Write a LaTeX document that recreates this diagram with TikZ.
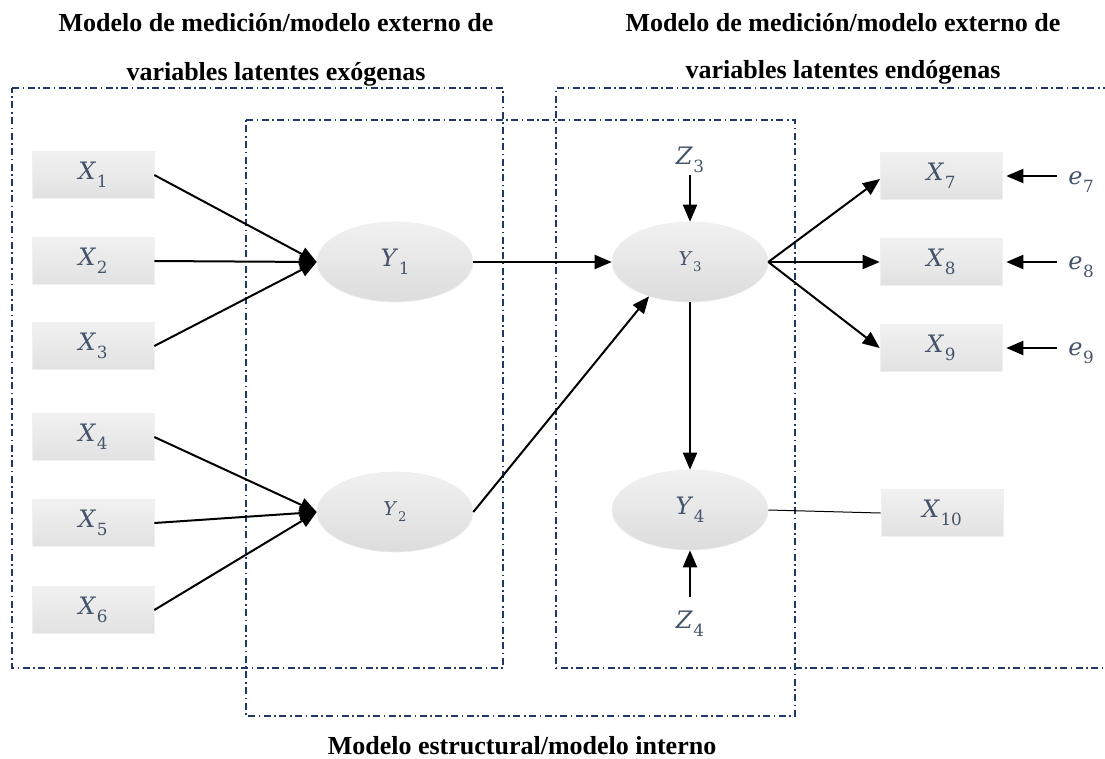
\documentclass[tikz,border=0pt]{standalone}
\usepackage{fontspec}
\setmainfont{Liberation Serif}
\newfontfamily\labelfont{DejaVu Serif}
\usetikzlibrary{arrows.meta,shapes.geometric}
\definecolor{frameblue}{HTML}{1F3864}
\definecolor{labelgray}{HTML}{44546A}
% variable name: italic letter with an upright, lowered index
\newcommand{\lvar}[2]{\textit{#1}\kern0.5pt\raisebox{-0.32em}{\scalebox{0.7}{#2}}}
\tikzset{
  region/.style={draw=frameblue,line width=1.6pt,dash pattern=on 7pt off 3.5pt on 1.6pt off 3.5pt},
  heading/.style={font=\fontsize{26}{30}\selectfont\bfseries,text=black,anchor=base,inner sep=0pt},
  indicator/.style={rectangle,minimum width=122pt,minimum height=47pt,inner sep=0pt,
    top color=gray!11,bottom color=gray!23,draw=gray!12,line width=0.6pt,
    text=labelgray,font=\labelfont\fontsize{24}{28}\selectfont},
  latent/.style={ellipse,minimum width=156pt,minimum height=80pt,inner sep=0pt,
    top color=gray!11,bottom color=gray!27,draw=gray!14,line width=0.6pt,
    text=labelgray,font=\labelfont\fontsize{24}{28}\selectfont},
  smalltext/.style={font=\labelfont\fontsize{19}{22}\selectfont},
  freelabel/.style={text=labelgray,font=\labelfont\fontsize{24}{28}\selectfont,inner sep=0pt},
  link/.style={-{Triangle[length=17pt,width=14pt]},line width=2pt,black},
}
\begin{document}
\begin{tikzpicture}[x=1pt,y=-1pt]
\useasboundingbox (0,0) rectangle (1105,758);

% regions (measurement models and structural model)
\draw[region] (12,88) -- (503,88) -- (503,668) -- (12,668) -- cycle;
\draw[region] (246,120) -- (795,120) -- (795,716) -- (246,716) -- cycle;
\draw[region] (1110,88) -- (556,88) -- (556,668) -- (1110,668);

% headings
\node[heading] (h1) at (276,31) {Modelo de medición/modelo externo de};
\node[heading] (h2) at (276,80) {variables latentes exógenas};
\node[heading] (h3) at (843,31) {Modelo de medición/modelo externo de};
\node[heading] (h4) at (843,78) {variables latentes endógenas};
\node[heading] (h5) at (522,754) {Modelo estructural/modelo interno};

% exogenous indicators
\node[indicator] (x1) at (93,175) {\lvar{X}{1}};
\node[indicator] (x2) at (93,261) {\lvar{X}{2}};
\node[indicator] (x3) at (93,346) {\lvar{X}{3}};
\node[indicator] (x4) at (93,437) {\lvar{X}{4}};
\node[indicator] (x5) at (93,523) {\lvar{X}{5}};
\node[indicator] (x6) at (93,610) {\lvar{X}{6}};

% latent variables
\node[latent] (y1) at (395,262) {\lvar{Y}{1}};
\node[latent,smalltext] (y2) at (395,512) {\lvar{Y}{2}};
\node[latent,smalltext] (y3) at (690,262) {\lvar{Y}{3}};
\node[latent] (y4) at (690,510) {\lvar{Y}{4}};

% endogenous indicators
\node[indicator] (x7) at (941,176) {\lvar{X}{7}};
\node[indicator] (x8) at (941,262) {\lvar{X}{8}};
\node[indicator] (x9) at (941,348) {\lvar{X}{9}};
\node[indicator] (x10) at (942,513) {\lvar{X}{10}};

% disturbances and errors
\node[freelabel] (z3) at (690,160) {\lvar{Z}{3}};
\node[freelabel] (z4) at (690,624) {\lvar{Z}{4}};
\node[freelabel] (e7) at (1081,182) {\lvar{e}{7}};
\node[freelabel] (e8) at (1081,267) {\lvar{e}{8}};
\node[freelabel] (e9) at (1081,353) {\lvar{e}{9}};
\coordinate (e7s) at (1057,176);
\coordinate (e8s) at (1057,262);
\coordinate (e9s) at (1057,348);
\coordinate (z3s) at (690,175);
\coordinate (z4s) at (690,597);
\coordinate (x7in) at (880,179);

% formative paths into Y1 and Y2
\draw[link] (x1.east) -- (y1.west);
\draw[link] (x2.east) -- (y1.west);
\draw[link] (x3.east) -- (y1.west);
\draw[link] (x4.east) -- (y2.west);
\draw[link] (x5.east) -- (y2.west);
\draw[link] (x6.east) -- (y2.west);

% structural paths
\draw[link] (y1.east) -- (y3.west);
\draw[link] (y2.east) -- (y3.220);
\draw[link] (y3.south) -- (y4.north);
\draw[link] (z3s) -- (y3.north);
\draw[link] (z4s) -- (y4.south);

% reflective paths out of Y3
\draw[link] (y3.east) -- (x7in);
\draw[link] (y3.east) -- (x8.west);
\draw[link] (y3.east) -- (x9.west);
\draw[link] (e7s) -- ([xshift=4pt]x7.east);
\draw[link] (e8s) -- ([xshift=4pt]x8.east);
\draw[link] (e9s) -- ([xshift=4pt]x9.east);

% single indicator of Y4
\draw[line width=1pt] (y4.east) -- (x10.west);
\end{tikzpicture}
\end{document}
